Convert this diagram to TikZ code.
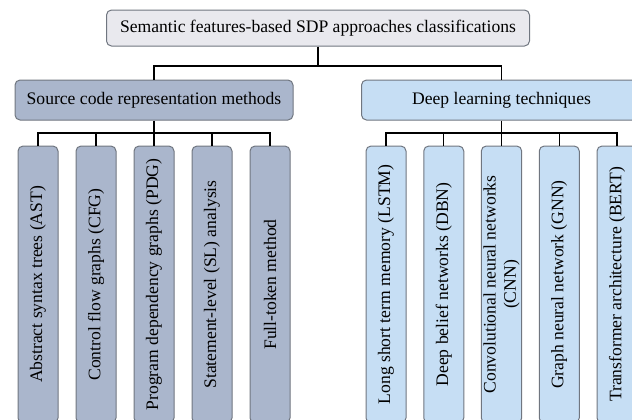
\documentclass[tikz,border=0pt]{standalone}
\usepackage{fontspec}
\setmainfont{Liberation Serif}
\usetikzlibrary{positioning,calc}
\definecolor{topCol}{RGB}{233,233,238}
\definecolor{srcCol}{RGB}{170,182,204}
\definecolor{dlCol}{RGB}{198,222,244}
\definecolor{edgeCol}{RGB}{112,118,128}
\tikzset{
  box/.style={draw=edgeCol,line width=0.5pt,rounded corners=2.5pt,align=center,
              inner sep=1pt,font=\fontsize{8.8}{10.2}\selectfont},
  topbox/.style={box,fill=topCol,minimum width=211.5pt,minimum height=18pt},
  srcbox/.style={box,fill=srcCol,minimum width=139pt,minimum height=20pt},
  dlbox/.style={box,fill=dlCol,minimum width=140pt,minimum height=20pt},
  leaf/.style={rotate=90,minimum width=138.5pt,minimum height=20pt},
  link/.style={black,line width=0.7pt},
}
\begin{document}
\begin{tikzpicture}[x=0.5pt,y=-0.5pt]
    \useasboundingbox (0,0) rectangle (632,419);
    \clip (0,0) rectangle (632,419);
    % --- root ---
    \node[topbox] (root) at (318,28) {Semantic features-based SDP approaches classifications};
    % --- two branches ---
    \node[srcbox] (src) at (154,100) {Source code representation methods};
    \node[dlbox]  (dl)  at (501.5,100) {Deep learning techniques};
    \coordinate (j0) at (318,66);
    \draw[link] (root.south) -- (j0);
    \draw[link] (src.north) |- (j0) -| (dl.north);
    % --- source code representation leaves ---
    \node[box,leaf,fill=srcCol] (s1) at (38,284.5)  {Abstract syntax trees (AST)};
    \node[box,leaf,fill=srcCol] (s2) at (96,284.5)  {Control flow graphs (CFG)};
    \node[box,leaf,fill=srcCol] (s3) at (154,284.5) {Program dependency graphs (PDG)};
    \node[box,leaf,fill=srcCol] (s4) at (212,284.5) {Statement-level (SL) analysis};
    \node[box,leaf,fill=srcCol] (s5) at (270,284.5) {Full-token method};
    \coordinate (j1) at (154,133);
    \draw[link] (src.south) -- (j1);
    \foreach \c in {1,...,5}
      \draw[link] (s\c.east) |- (j1);
    % --- deep learning leaves ---
    \node[box,leaf,fill=dlCol] (d1) at (386,284.5)    {Long short term memory (LSTM)};
    \node[box,leaf,fill=dlCol] (d2) at (443.75,284.5) {Deep belief networks (DBN)};
    \node[box,leaf,fill=dlCol] (d3) at (501.5,284.5)  {Convolutional neural networks\\(CNN)};
    \node[box,leaf,fill=dlCol] (d4) at (559.25,284.5) {Graph neural network (GNN)};
    \node[box,leaf,fill=dlCol] (d5) at (617,284.5)    {Transformer architecture (BERT)};
    \coordinate (j2) at (501.5,133);
    \draw[link] (dl.south) -- (j2);
    \foreach \c in {1,...,5}
      \draw[link] (d\c.east) |- (j2);
\end{tikzpicture}
\end{document}
